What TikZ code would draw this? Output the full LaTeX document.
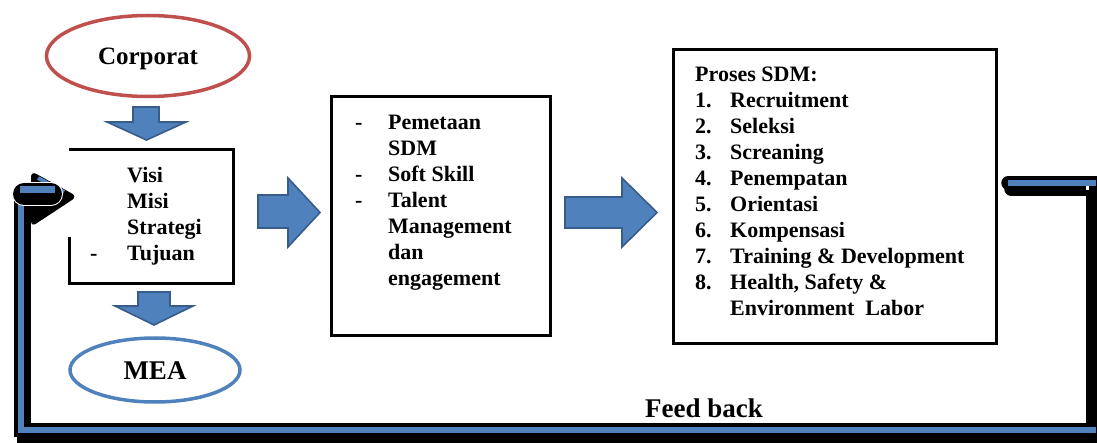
\documentclass[tikz,border=0pt]{standalone}
\usepackage{fontspec}
\setmainfont{Liberation Serif}
\usetikzlibrary{shapes.geometric}
\definecolor{accblue}{HTML}{4F81BD}
\definecolor{accblueD}{HTML}{385D8A}
\definecolor{accred}{HTML}{C0504D}

\begin{document}
\begin{tikzpicture}[x=1pt,y=-1pt,
  boxline/.style={line width=3.5pt, line join=miter},
  plainbox/.style={rectangle, inner sep=0pt},
  txt/.style={inner sep=0pt, font=\fontsize{22}{26}\selectfont\bfseries},
  blockarrow/.style={fill=accblue, draw=accblueD, line width=1.6pt, line join=miter},
  oval/.style={ellipse, line width=3.5pt, inner sep=0pt, text depth=0pt},
  fbshadow/.style={line width=14pt, black, line cap=round, line join=miter},
  fbcore/.style={line width=6pt, accblue, line cap=butt, line join=miter},
]
\useasboundingbox (0,0) rectangle (1097,443);
\fill[white] (0,0) rectangle (1097,443);

% ---- ovals ----
\node[oval, draw=accred, minimum width=203pt, minimum height=81pt,
      text height=16.5pt, font=\fontsize{25}{30}\selectfont\bfseries] (corp) at (148,56) {Corporat};
\node[oval, draw=accblue, minimum width=170pt, minimum height=64pt,
      text height=18pt, font=\fontsize{27}{32}\selectfont\bfseries] (mea) at (155,370) {MEA};

% ---- boxes ----
\node[plainbox, minimum width=164pt, minimum height=134pt] (visi) at (151.5,216.5) {};
\draw[boxline] ([yshift=-88pt]visi.north west) -- (visi.south west) -- (visi.south east)
  -- (visi.north east) -- (visi.north west);
\node[plainbox, draw, boxline, minimum width=219pt, minimum height=239pt] (sdm) at (441,216) {};
\node[plainbox, draw, boxline, minimum width=323pt, minimum height=294pt] (proses) at (835,196.5) {};

% ---- box texts ----
\node[txt, anchor=base west] (visitext) at (90,183)
  {\begin{tabular}[t]{@{}p{37pt}@{}l@{}}
    & Visi\\ & Misi\\ & Strategi\\ - & Tujuan
   \end{tabular}};
\node[txt, anchor=base west] (sdmtext) at (355,130)
  {\begin{tabular}[t]{@{}p{33pt}@{}l@{}}
    - & Pemetaan\\ & SDM\\ - & Soft Skill\\ - & Talent\\ & Management\\ & dan\\ & engagement
   \end{tabular}};
\node[txt, anchor=base west] (prosestext) at (695,82)
  {\begin{tabular}[t]{@{}p{35pt}@{}l@{}}
    \multicolumn{2}{@{}l@{}}{Proses SDM:}\\
    1. & Recruitment\\
    2. & Seleksi\\
    3. & Screaning\\
    4. & Penempatan\\
    5. & Orientasi\\
    6. & Kompensasi\\
    7. & Training \& Development\\
    8. & Health, Safety \&\\
       & Environment\ \ Labor
   \end{tabular}};

% ---- block arrows ----
\draw[blockarrow] (133,107) -- (159,107) -- (159,122) -- (186,122) -- (146.5,140)
  -- (107,122) -- (133,122) -- cycle;
\draw[blockarrow] (138,292) -- (170,292) -- (170,306) -- (193,306) -- (154,325)
  -- (115,306) -- (138,306) -- cycle;
\draw[blockarrow] (258,195) -- (288,195) -- (288,178) -- (320,212.5) -- (288,247)
  -- (288,228) -- (258,228) -- cycle;
\draw[blockarrow] (565,197) -- (622,197) -- (622,178) -- (657,212.5) -- (622,247)
  -- (622,228) -- (565,228) -- cycle;

% ---- feedback loop ----
\coordinate (fb1) at ([xshift=10pt,yshift=13.5pt]proses.east);
\coordinate (fb2) at (1093,183);
\coordinate (fb3) at (1093,430);
\coordinate (fb4) at (21,430);
\coordinate (fb5) at (21,196);
\begin{scope}[transform canvas={shift={(3,6)}}]
  \draw[fbshadow] (fb1) -- (fb2) -- (fb3) -- (fb4) -- (fb5);
\end{scope}
\draw[fbshadow] (fb1) -- (fb2) -- (fb3) -- (fb4) -- (fb5);
\draw[fbcore] (fb1) -- (fb2) -- (fb3) -- (fb4) -- (fb5);
\draw[black, line width=9pt] (1093.5,186) -- (1093.5,427);
\fill[white] (1086,186) rectangle (1089,190);

% arrow head into the Visi box
\coordinate (fbtip) at ([xshift=8pt,yshift=20pt]visi.west);
\fill[black, rounded corners=6pt] (31,171) -- (fbtip) -- (31,227) -- cycle;
\draw[accblue, line width=4pt] (38,178) -- (64,192);
\draw[white, line width=24pt, line cap=round] (24,194) -- (51,194);
\draw[black, line width=22pt, line cap=round] (24,194) -- (51,194);
\draw[accblue, line width=7pt] (20,189.5) -- (55,189.5);

\node[anchor=base west, inner sep=0pt, font=\fontsize{27}{32}\selectfont\bfseries] (fbtext) at (645,417) {Feed back};
\end{tikzpicture}
\end{document}
